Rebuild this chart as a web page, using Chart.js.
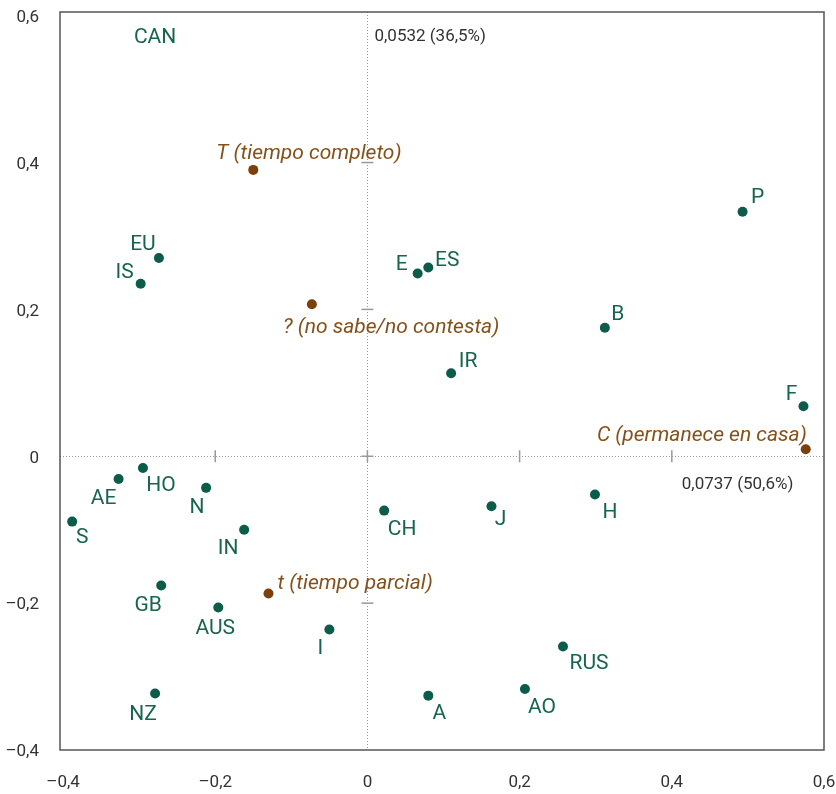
<!DOCTYPE html>
<html><head><meta charset="utf-8">
<script src="https://cdn.jsdelivr.net/npm/chart.js@4"></script>
<style>html,body{margin:0;padding:0;background:#fff}#wrap{width:836px;height:794px;position:relative}</style>
</head><body><div id="wrap"><canvas id="c"></canvas></div>
<script>
// ---- data ----
const countryLabels = ['CAN','EU','IS','E','ES','IR','P','B','F','H','AE','HO','N','S','IN','GB','CH','J','AUS','NZ','I','A','AO','RUS'];
const countryX = [-0.279,-0.274,-0.298,0.066,0.080,0.110,0.493,0.312,0.573,0.299,-0.327,-0.295,-0.212,-0.388,-0.162,-0.271,0.022,0.163,-0.196,-0.279,-0.050,0.080,0.207,0.257];
const countryY = [0.572,0.270,0.235,0.249,0.257,0.113,0.333,0.175,0.068,-0.052,-0.031,-0.016,-0.043,-0.089,-0.100,-0.176,-0.074,-0.068,-0.206,-0.323,-0.236,-0.326,-0.317,-0.259];
const categoryLabels = ['T (tiempo completo)','? (no sabe/no contesta)','C (permanece en casa)','t (tiempo parcial)'];
const categoryX = [-0.150,-0.073,0.576,-0.130];
const categoryY = [0.390,0.207,0.0095,-0.187];
const xTicks = [-0.4,-0.2,0,0.2,0.4,0.6];
const yTicks = [-0.4,-0.2,0,0.2,0.4,0.6];
const axis1Label = '0,0737 (50,6%)';
const axis2Label = '0,0532 (36,5%)';

// ---- styling (label placement relative to marker, px) ----
const countryPlace = {CAN:[0,0],EU:[-16,-15],IS:[-16,-13],E:[-16,-11],ES:[19,-9],IR:[17,-14],P:[15,-16],B:[13,-15],F:[-12,-14],H:[15,16],AE:[-15,18],HO:[18,16],N:[-9,18],S:[10,14],IN:[-16,17],GB:[-13,18],CH:[18,17],J:[9,12],AUS:[-3,19],NZ:[-12,19],I:[-9,17],A:[11,16],AO:[17,17],RUS:[26,15]};
const categoryPlace = [['left',-37,-18],['left',-29,21],['right',1,-16],['left',9,-12]];
const GREEN = '#0b5c48', GREEN_TXT = '#17654f', BROWN = '#7a410c', BROWN_TXT = '#86501a';
const FONT = 'Roboto, "Noto Sans", sans-serif';

const fmt = v => Math.abs(v) < 1e-9 ? '0' : (v < 0 ? '\u2013' : '') + Math.abs(v).toFixed(1).replace('.', ',');

const overlay = {
  id: 'overlay',
  beforeDatasetsDraw(chart) {
    const {ctx, chartArea: a, scales: {x, y}} = chart;
    const x0 = x.getPixelForValue(0), y0 = y.getPixelForValue(0);
    ctx.save();
    ctx.strokeStyle = '#9a9a9a'; ctx.lineWidth = 1; ctx.setLineDash([1, 2]);
    ctx.beginPath(); ctx.moveTo(Math.round(x0) + 0.5, a.top); ctx.lineTo(Math.round(x0) + 0.5, a.bottom); ctx.stroke();
    ctx.beginPath(); ctx.moveTo(a.left, Math.round(y0) + 0.5); ctx.lineTo(a.right, Math.round(y0) + 0.5); ctx.stroke();
    ctx.setLineDash([]); ctx.lineWidth = 1.5; ctx.strokeStyle = '#999';
    xTicks.forEach(v => { if (v < x.min + 0.02 || v > x.max - 0.02) return; const p = x.getPixelForValue(v);
      ctx.beginPath(); ctx.moveTo(p, y0 - 6); ctx.lineTo(p, y0 + 6); ctx.stroke(); });
    yTicks.forEach(v => { if (v < y.min + 0.02 || v > y.max - 0.02) return; const p = y.getPixelForValue(v);
      ctx.beginPath(); ctx.moveTo(x0 - 6, p); ctx.lineTo(x0 + 6, p); ctx.stroke(); });
    ctx.restore();
  },
  afterDatasetsDraw(chart) {
    const {ctx, chartArea: a, scales: {x, y}} = chart;
    ctx.save();
    ctx.strokeStyle = '#555'; ctx.lineWidth = 1.5;
    ctx.strokeRect(a.left, a.top, a.right - a.left, a.bottom - a.top);
    ctx.textBaseline = 'middle';
    ctx.translate(0, 2);
    // tick labels, positioned by the scales
    ctx.font = '17px ' + FONT; ctx.fillStyle = '#333';
    ctx.textAlign = 'right';
    yTicks.forEach(v => ctx.fillText(fmt(v), a.left - 21, y.getPixelForValue(v)));
    ctx.textAlign = 'center';
    xTicks.forEach(v => ctx.fillText(fmt(v), x.getPixelForValue(v), a.bottom + 31));
    // point labels
    ctx.font = '21px ' + FONT; ctx.fillStyle = GREEN_TXT; ctx.textAlign = 'center';
    countryLabels.forEach((l, i) => { const o = countryPlace[l];
      ctx.fillText(l, x.getPixelForValue(countryX[i]) + o[0], y.getPixelForValue(countryY[i]) + o[1]); });
    ctx.font = 'italic 21px ' + FONT; ctx.fillStyle = BROWN_TXT;
    categoryLabels.forEach((l, i) => { const o = categoryPlace[i]; ctx.textAlign = o[0];
      ctx.fillText(l, x.getPixelForValue(categoryX[i]) + o[1], y.getPixelForValue(categoryY[i]) + o[2]); });
    ctx.font = '17px ' + FONT; ctx.fillStyle = '#333'; ctx.textAlign = 'left';
    const x0 = x.getPixelForValue(0), y0 = y.getPixelForValue(0);
    ctx.fillText(axis2Label, x0 + 7, a.top + 23);
    ctx.fillText(axis1Label, x.getPixelForValue(0.4) + 10, y0 + 26);
    ctx.restore();
  }
};

new Chart(document.getElementById('c'), {
  type: 'scatter',
  data: { datasets: [
    { data: countryX.map((v, i) => ({x: v, y: countryY[i]})), backgroundColor: GREEN, borderWidth: 0,
      pointRadius: ctx => countryLabels[ctx.dataIndex] === 'CAN' ? 0 : 5 },
    { data: categoryX.map((v, i) => ({x: v, y: categoryY[i]})), backgroundColor: BROWN, borderWidth: 0, pointRadius: 5 }
  ]},
  options: {
    responsive: true, maintainAspectRatio: false, animation: false,
    layout: { padding: { top: 12, right: 12, left: 0, bottom: 0 } },
    plugins: { legend: { display: false }, tooltip: { enabled: false } },
    scales: {
      x: { type: 'linear', min: -0.404, max: 0.6,
        grid: { display: false, drawTicks: false }, border: { display: false },
        afterBuildTicks: s => { s.ticks = xTicks.map(v => ({value: v})); },
        afterFit: s => { s.height = 44; s.paddingLeft = 0; s.paddingRight = 0; },
        ticks: { display: false } },
      y: { type: 'linear', min: -0.4, max: 0.605,
        grid: { display: false, drawTicks: false }, border: { display: false },
        afterBuildTicks: s => { s.ticks = yTicks.map(v => ({value: v})); },
        afterFit: s => { s.width = 60; s.paddingTop = 0; s.paddingBottom = 0; },
        ticks: { display: false } }
    }
  },
  plugins: [overlay]
});
</script></body></html>
